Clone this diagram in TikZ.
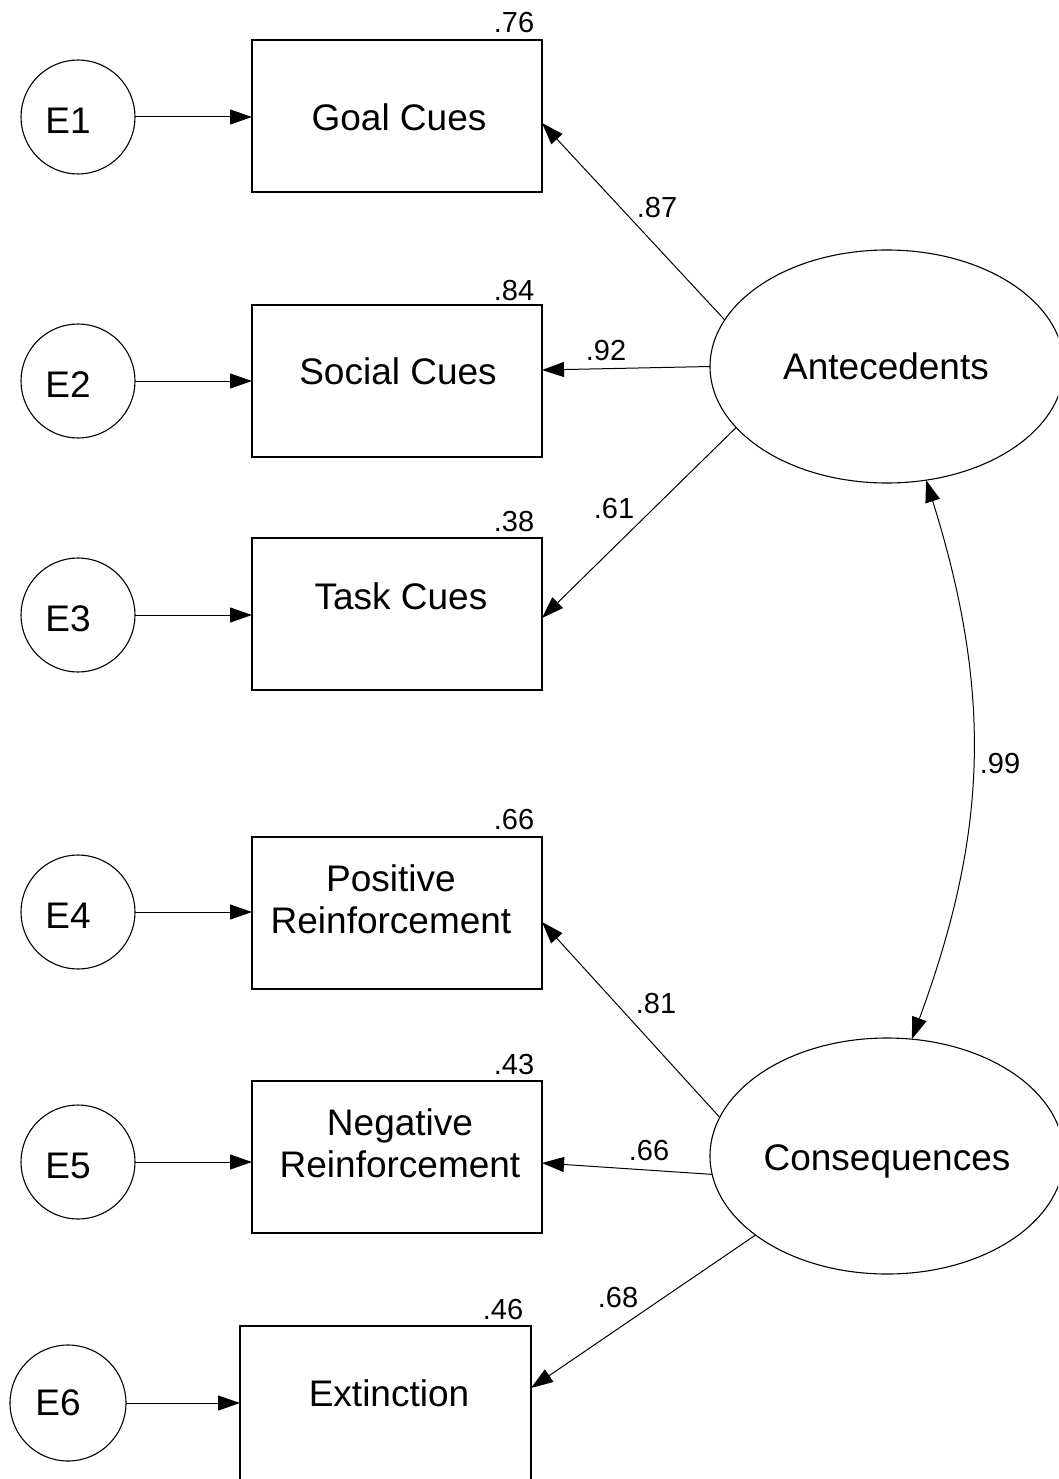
\documentclass[tikz,border=0pt]{standalone}
\usepackage{fontspec}
\setmainfont{Liberation Sans}
\usetikzlibrary{arrows.meta,shapes.geometric}
\begin{document}
\begin{tikzpicture}[x=1pt,y=-1pt,
  obsbox/.style={draw,line width=1.2pt,rectangle,minimum width=290pt,minimum height=152pt,inner sep=0pt,outer sep=0pt},
  errcirc/.style={draw,line width=1.1pt,circle,minimum size=114pt,inner sep=0pt,outer sep=0pt},
  latent/.style={draw,line width=1.1pt,ellipse,minimum width=354pt,minimum height=233pt,inner sep=0pt,outer sep=0pt},
  bigtxt/.style={inner sep=0pt,font=\fontsize{37}{42}\selectfont,text height=26.5pt,text depth=0pt},
  numtxt/.style={inner sep=0pt,font=\fontsize{29}{33}\selectfont,text height=20.8pt,text depth=0pt},
  path/.style={line width=1pt,-{Triangle[length=22pt,width=15pt]}},
  cov/.style={line width=1pt,{Triangle[length=22pt,width=15pt]}-{Triangle[length=22pt,width=15pt]}}]
\useasboundingbox (0,0) rectangle (1058,1479);
\fill[white] (0,0) rectangle (1058,1479);
\clip (0,0) rectangle (1058,1479);

% observed indicators
\node[obsbox] (gc) at (397,116) {};
\node[obsbox] (sc) at (397,381) {};
\node[obsbox] (tc) at (397,614) {};
\node[obsbox] (pr) at (397,913) {};
\node[obsbox] (nr) at (397,1157) {};
\node[obsbox,minimum width=291pt,minimum height=170pt] (ex) at (385.5,1411) {};

\node[bigtxt] (gct) at (399,117) {Goal Cues};
\node[bigtxt] (sct) at (398,371) {Social Cues};
\node[bigtxt] (tct) at (401,596) {Task Cues};
\node[bigtxt] (prt1) at (391,878) {Positive};
\node[bigtxt] (prt2) at (391,920) {Reinforcement};
\node[bigtxt] (nrt1) at (400,1122) {Negative};
\node[bigtxt] (nrt2) at (400,1164) {Reinforcement};
\node[bigtxt] (ext) at (389,1393) {Extinction};

% squared multiple correlations
\node[numtxt] (r1) at (514,22) {.76};
\node[numtxt] (r2) at (514,290) {.84};
\node[numtxt] (r3) at (514,521) {.38};
\node[numtxt] (r4) at (514,819) {.66};
\node[numtxt] (r5) at (514,1064) {.43};
\node[numtxt] (r6) at (503,1309) {.46};

% error terms
\node[errcirc] (e1) at (78,117) {};
\node[errcirc] (e2) at (78,381) {};
\node[errcirc] (e3) at (78,615) {};
\node[errcirc] (e4) at (78,912) {};
\node[errcirc] (e5) at (78,1162) {};
\node[errcirc,minimum size=116pt] (e6) at (68,1403) {};
\node[bigtxt] (e1t) at (68,120) {E1};
\node[bigtxt] (e2t) at (68,384) {E2};
\node[bigtxt] (e3t) at (68,618) {E3};
\node[bigtxt] (e4t) at (68,915) {E4};
\node[bigtxt] (e5t) at (68,1165) {E5};
\node[bigtxt] (e6t) at (58,1402) {E6};

\draw[path] (e1) -- (gc.west |- e1);
\draw[path] (e2) -- (sc.west |- e2);
\draw[path] (e3) -- (tc.west |- e3);
\draw[path] (e4) -- (pr.west |- e4);
\draw[path] (e5) -- (nr.west |- e5);
\draw[path] (e6) -- (ex.west |- e6);

% latent factors
\node[latent] (ant) at (887,366.5) {};
\node[latent,minimum height=236pt] (con) at (887,1156) {};
\node[bigtxt] (antt) at (886,366) {Antecedents};
\node[bigtxt] (cont) at (887,1157) {Consequences};

% loadings
\draw[path] (ant.164.9) -- ([yshift=-7pt]gc.east);
\draw[path] (ant.180) -- ([yshift=11pt]sc.east);
\draw[path] (ant.202.3) -- ([yshift=-4pt]tc.east);
\draw[path] (con.167.6) -- ([yshift=-9pt]pr.east);
\draw[path] (con.186.6) -- ([yshift=-6pt]nr.east);
\draw[path] (con.211.7) -- ([yshift=23pt]ex.east);

\node[numtxt] (l1) at (657,207) {.87};
\node[numtxt] (l2) at (606,350) {.92};
\node[numtxt] (l3) at (614,508) {.61};
\node[numtxt] (l4) at (656,1003) {.81};
\node[numtxt] (l5) at (649,1150) {.66};
\node[numtxt] (l6) at (618,1297) {.68};

% factor correlation
\draw[cov] (ant.-71.5) .. controls (995,700) and (985,840) .. (con.78);
\node[numtxt] (c1) at (1000,763) {.99};
\end{tikzpicture}
\end{document}
